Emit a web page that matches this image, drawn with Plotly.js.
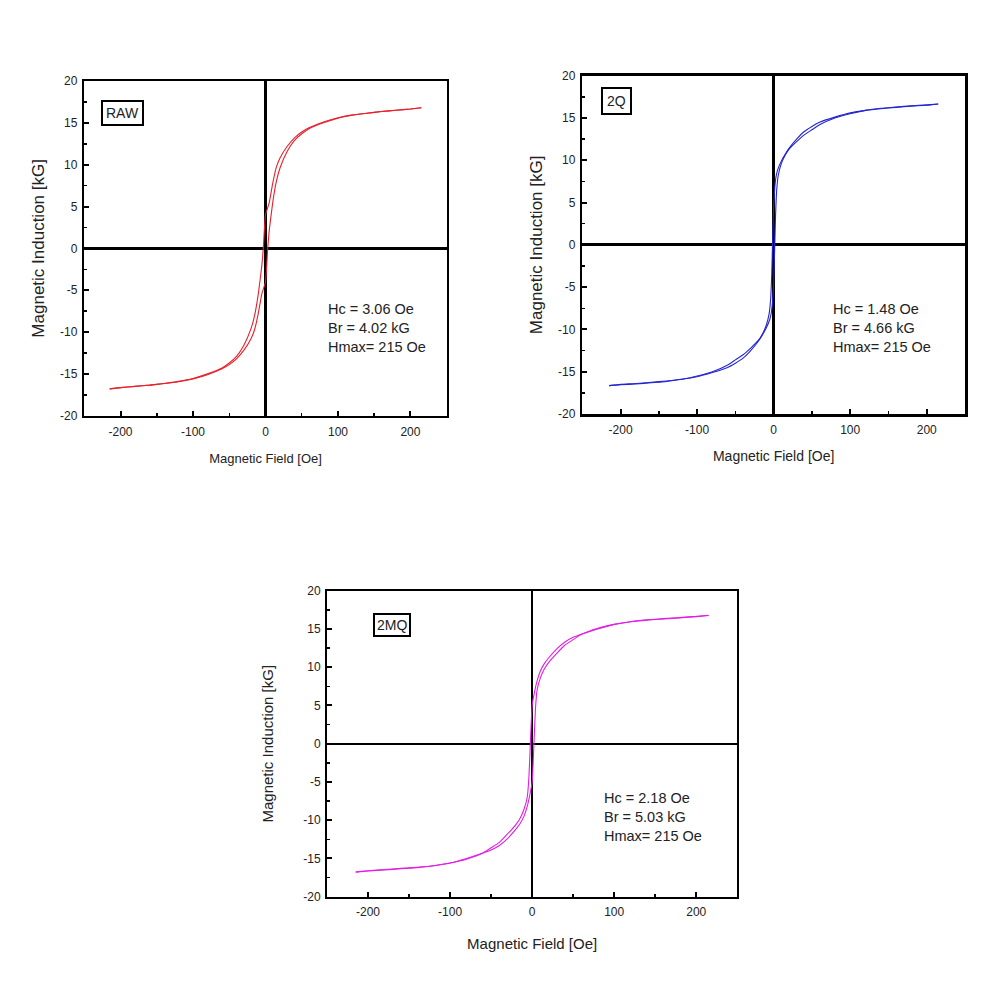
<!DOCTYPE html>
<html>
<head>
<meta charset="utf-8">
<script src="https://cdn.plot.ly/plotly-3.0.1.min.js"></script>
<style>html,body{margin:0;padding:0;background:#fff;}#chart{width:1003px;height:985px;}</style>
</head>
<body>
<div id="chart"></div>
<script>
// ---- Data ----
// Panel 1: RAW (descending branch from +Hmax, ascending branch from -Hmax)
const rawDownH = [215,200,180,160,140,120,100,80,60,50,40,30,20,15,10,5,0,-3.06,-5,-10,-15,-20,-30,-40,-50,-60,-80,-100,-120,-140,-160,-180,-200,-215];
const rawDownB = [16.8,16.65,16.5,16.35,16.15,15.95,15.6,15.1,14.4,13.9,13.2,12.2,10.8,9.7,7.8,5.4,4.02,0.0,-2.0,-5.5,-8.0,-9.6,-11.6,-12.9,-13.7,-14.3,-15.0,-15.55,-15.9,-16.15,-16.35,-16.5,-16.65,-16.8];
const rawUpH = [-215,-200,-180,-160,-140,-120,-100,-80,-60,-50,-40,-30,-20,-15,-10,-5,0,3.06,5,10,15,20,30,40,50,60,80,100,120,140,160,180,200,215];
const rawUpB = [-16.8,-16.65,-16.5,-16.35,-16.15,-15.95,-15.6,-15.1,-14.4,-13.9,-13.2,-12.2,-10.8,-9.7,-7.8,-5.4,-4.02,0.0,2.0,5.5,8.0,9.6,11.6,12.9,13.7,14.3,15.0,15.55,15.9,16.15,16.35,16.5,16.65,16.8];
// Panel 2: 2Q
const q2DownH = [215,200,180,160,140,120,100,80,60,50,40,30,20,15,10,5,3,1.5,0,-1.48,-2.5,-4,-6,-10,-15,-20,-30,-40,-50,-60,-80,-100,-120,-140,-160,-180,-200,-215];
const q2DownB = [16.65,16.5,16.4,16.25,16.1,15.9,15.6,15.1,14.5,14.0,13.4,12.5,11.4,10.7,9.9,8.8,8.0,6.8,4.66,0.0,-3.5,-6.5,-8.2,-9.6,-10.6,-11.3,-12.2,-13.0,-13.6,-14.2,-15.0,-15.5,-15.9,-16.15,-16.3,-16.45,-16.55,-16.65];
const q2UpH = [-215,-200,-180,-160,-140,-120,-100,-80,-60,-50,-40,-30,-20,-15,-10,-5,-3,-1.5,0,1.48,2.5,4,6,10,15,20,30,40,50,60,80,100,120,140,160,180,200,215];
const q2UpB = [-16.65,-16.5,-16.4,-16.25,-16.1,-15.9,-15.6,-15.1,-14.5,-14.0,-13.4,-12.5,-11.4,-10.7,-9.9,-8.8,-8.0,-6.8,-4.66,0.0,3.5,6.5,8.2,9.6,10.6,11.3,12.2,13.0,13.6,14.2,15.0,15.5,15.9,16.15,16.3,16.45,16.55,16.65];
// Panel 3: 2MQ
const mqDownH = [215,200,180,160,140,120,100,80,60,50,40,30,20,15,10,6,3,0,-2.18,-4,-6,-10,-15,-20,-30,-40,-50,-60,-80,-100,-120,-140,-160,-180,-200,-215];
const mqDownB = [16.75,16.6,16.45,16.3,16.15,15.95,15.6,15.0,14.3,13.9,13.3,12.4,11.2,10.5,9.5,8.2,6.8,5.03,0.0,-4.5,-7.0,-8.6,-9.8,-10.6,-11.8,-12.9,-13.6,-14.3,-15.1,-15.6,-15.95,-16.2,-16.35,-16.5,-16.65,-16.8];
const mqUpH = [-215,-200,-180,-160,-140,-120,-100,-80,-60,-50,-40,-30,-20,-15,-10,-6,-3,0,2.18,4,6,10,15,20,30,40,50,60,80,100,120,140,160,180,200,215];
const mqUpB = [-16.75,-16.6,-16.45,-16.3,-16.15,-15.95,-15.6,-15.0,-14.3,-13.9,-13.3,-12.4,-11.2,-10.5,-9.5,-8.2,-6.8,-5.03,0.0,4.5,7.0,8.6,9.8,10.6,11.8,12.9,13.6,14.3,15.1,15.6,15.95,16.2,16.35,16.5,16.65,16.8];

const panelLabels = ["RAW", "2Q", "2MQ"];
const statsText = [
  "Hc = 3.06 Oe<br>Br = 4.02 kG<br>Hmax= 215 Oe",
  "Hc = 1.48 Oe<br>Br = 4.66 kG<br>Hmax= 215 Oe",
  "Hc = 2.18 Oe<br>Br = 5.03 kG<br>Hmax= 215 Oe"
];
const xTitle = "Magnetic Field [Oe]";
const yTitle = "Magnetic Induction [kG]";
const colors = ["#e8202a", "#2424d2", "#e21ee2"];

// ---- Build ----
const W = 1003, H = 985;
const px = x => x / W;
const py = y => 1 - y / H;
const FONT = "Liberation Sans, Arial, sans-serif";

const traces = [
  {x: rawDownH, y: rawDownB, xaxis: 'x', yaxis: 'y', c: 0},
  {x: rawUpH, y: rawUpB, xaxis: 'x', yaxis: 'y', c: 0},
  {x: q2DownH, y: q2DownB, xaxis: 'x2', yaxis: 'y2', c: 1},
  {x: q2UpH, y: q2UpB, xaxis: 'x2', yaxis: 'y2', c: 1},
  {x: mqDownH, y: mqDownB, xaxis: 'x3', yaxis: 'y3', c: 2},
  {x: mqUpH, y: mqUpB, xaxis: 'x3', yaxis: 'y3', c: 2}
].map(t => ({
  type: 'scatter', mode: 'lines', x: t.x, y: t.y, xaxis: t.xaxis, yaxis: t.yaxis,
  line: {color: colors[t.c], width: 1.1, shape: 'spline', smoothing: 0.4},
  showlegend: false, hoverinfo: 'skip'
}));

function xax(domain, anchor, frameW, zeroW, titleSize, standoff) {
  return {
    domain: domain, anchor: anchor, range: [-250, 250],
    tickvals: [-200, -100, 0, 100, 200], ticktext: ['-200', '-100', '0', '100', '200'],
    ticks: 'inside', ticklen: 5, tickwidth: 2, tickcolor: '#000',
    minor: {tickvals: [-150, -50, 50, 150], ticks: 'inside', ticklen: 3, tickwidth: 1.5, tickcolor: '#000'},
    showline: true, linecolor: '#000', linewidth: frameW, mirror: true,
    showgrid: false, zeroline: true, zerolinecolor: '#000', zerolinewidth: zeroW,
    tickfont: {family: FONT, size: 12, color: '#222'}, ticklabelstandoff: 3,
    title: {text: xTitle, font: {family: FONT, size: titleSize, color: '#222'}, standoff: standoff},
    fixedrange: true
  };
}
function yax(domain, anchor, frameW, zeroW, titleSize, standoff) {
  return {
    domain: domain, anchor: anchor, range: [-20, 20],
    tickvals: [-20, -15, -10, -5, 0, 5, 10, 15, 20],
    ticktext: ['-20', '-15', '-10', '-5', '0', '5', '10', '15', '20'],
    ticks: 'inside', ticklen: 5, tickwidth: 2, tickcolor: '#000',
    minor: {tickvals: [-17.5, -12.5, -7.5, -2.5, 2.5, 7.5, 12.5, 17.5], ticks: 'inside', ticklen: 3, tickwidth: 1.5, tickcolor: '#000'},
    showline: true, linecolor: '#000', linewidth: frameW, mirror: true,
    showgrid: false, zeroline: true, zerolinecolor: '#000', zerolinewidth: zeroW,
    tickfont: {family: FONT, size: 12, color: '#222'}, ticklabelstandoff: 2,
    title: {text: yTitle, font: {family: FONT, size: titleSize, color: '#222'}, standoff: standoff},
    fixedrange: true
  };
}

const layout = {
  width: W, height: H,
  margin: {l: 0, r: 0, t: 0, b: 0},
  paper_bgcolor: '#fff', plot_bgcolor: '#fff',
  showlegend: false,
  xaxis: xax([px(84.3), px(446.7)], 'y', 2.5, 3, 13, 17),
  yaxis: yax([py(415.7), py(81)], 'x', 2.5, 3, 17, 11),
  xaxis2: xax([px(582.3), px(965)], 'y2', 2.5, 3, 14, 16),
  yaxis2: yax([py(414), py(75.7)], 'x2', 2.5, 3, 17, 11),
  xaxis3: xax([px(327), px(737.3)], 'y3', 2, 2, 15, 20),
  yaxis3: yax([py(896.7), py(590.7)], 'x3', 2, 2, 15, 26),
  annotations: [
    {text: panelLabels[0], xref: 'paper', yref: 'paper', x: px(122), y: py(113), xanchor: 'center', yanchor: 'middle',
     showarrow: false, font: {family: FONT, size: 14, color: '#222'}, bordercolor: '#000', borderwidth: 2, borderpad: 3, bgcolor: '#fff'},
    {text: panelLabels[1], xref: 'paper', yref: 'paper', x: px(616.8), y: py(101.3), xanchor: 'center', yanchor: 'middle',
     showarrow: false, font: {family: FONT, size: 14, color: '#222'}, bordercolor: '#000', borderwidth: 2, borderpad: 4, bgcolor: '#fff'},
    {text: panelLabels[2], xref: 'paper', yref: 'paper', x: px(392), y: py(624.5), xanchor: 'center', yanchor: 'middle',
     showarrow: false, font: {family: FONT, size: 14, color: '#222'}, bordercolor: '#000', borderwidth: 2, borderpad: 2, bgcolor: '#fff'},
    {text: statsText[0], xref: 'paper', yref: 'paper', x: px(326), y: py(327.8), xanchor: 'left', yanchor: 'middle', align: 'left',
     showarrow: false, font: {family: FONT, size: 14.5, color: '#222'}},
    {text: statsText[1], xref: 'paper', yref: 'paper', x: px(831), y: py(328.3), xanchor: 'left', yanchor: 'middle', align: 'left',
     showarrow: false, font: {family: FONT, size: 14.5, color: '#222'}},
    {text: statsText[2], xref: 'paper', yref: 'paper', x: px(602), y: py(816.7), xanchor: 'left', yanchor: 'middle', align: 'left',
     showarrow: false, font: {family: FONT, size: 14.5, color: '#222'}}
  ]
};

Plotly.newPlot('chart', traces, layout, {staticPlot: true, displayModeBar: false});
</script>
</body>
</html>
